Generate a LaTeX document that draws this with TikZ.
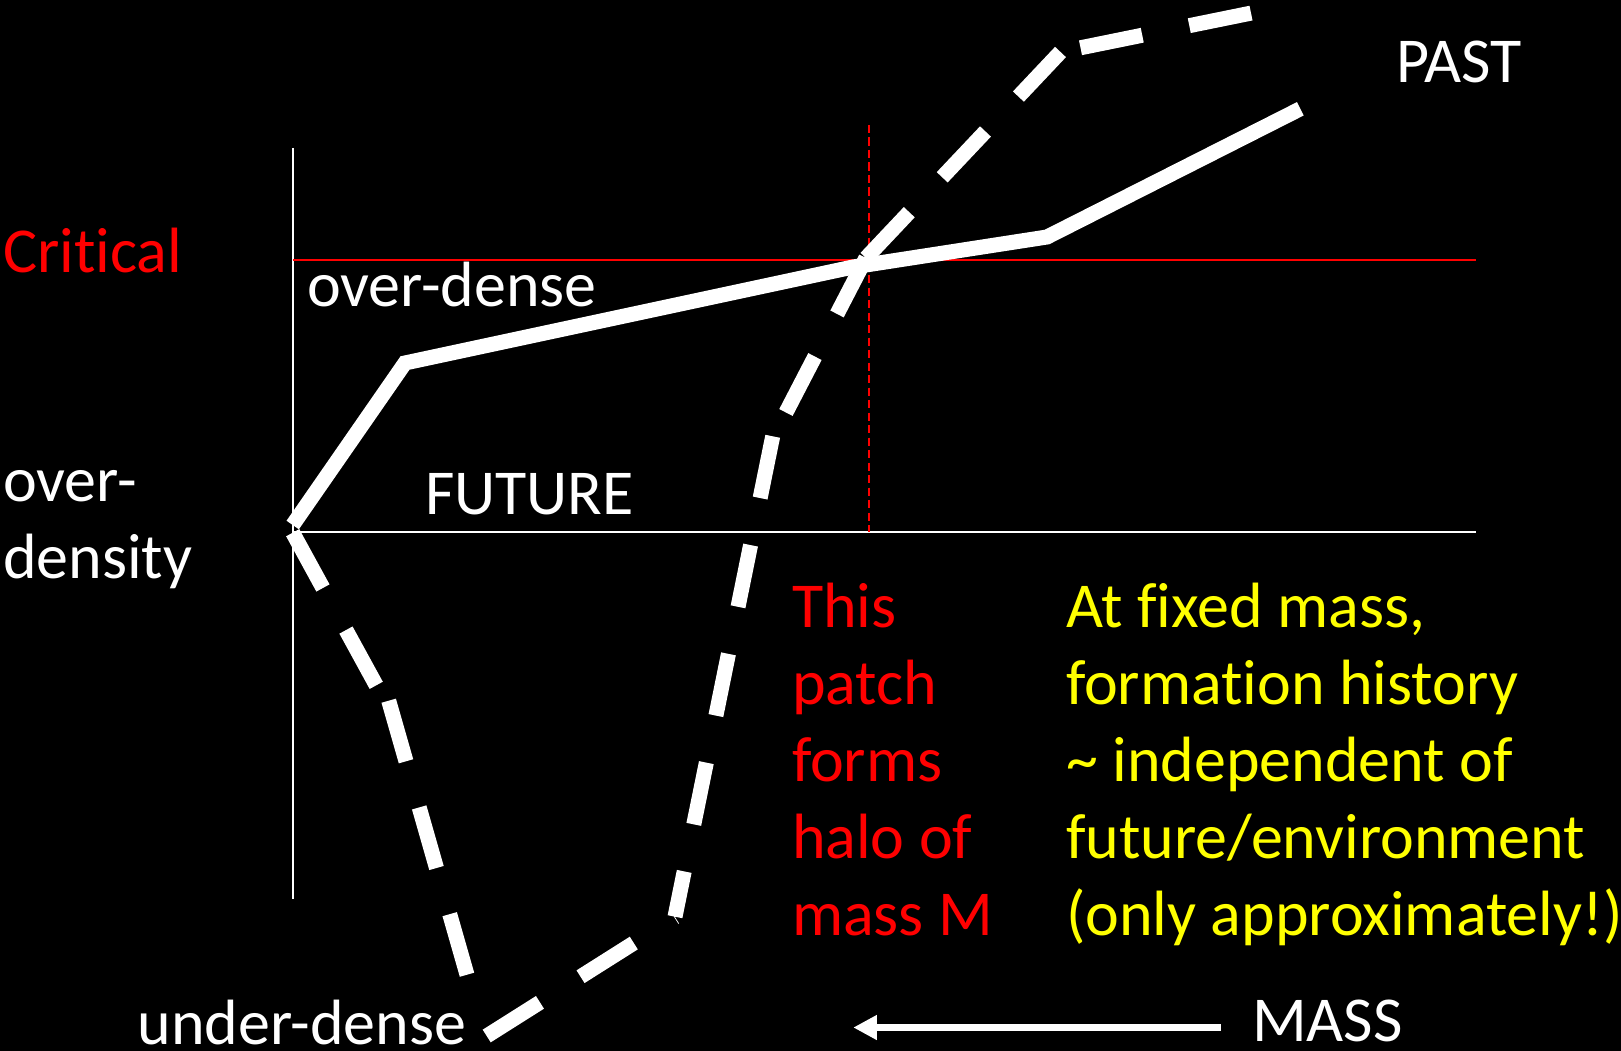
\documentclass[tikz,border=0pt]{standalone}
\usepackage{fontspec}
\setmainfont{Carlito}[Ligatures={NoCommon}]
\usetikzlibrary{arrows.meta}
\definecolor{pptred}{RGB}{255,0,0}
\definecolor{pptyellow}{RGB}{255,255,0}
\newcommand{\lines}[1]{\begin{tabular}[t]{@{}l@{}}#1\end{tabular}}
\begin{document}
\begin{tikzpicture}[x=1pt,y=-1pt,
  lbl/.style={anchor=base west, inner sep=0pt, outer sep=0pt, font=\fontsize{64}{77}\selectfont},
  axisline/.style={white, line width=2pt},
  critline/.style={pptred, line width=2pt},
  markline/.style={pptred, line width=1.5pt, dash pattern=on 8.3pt off 4.2pt},
  pastcurve/.style={white, line width=15pt, line cap=butt, line join=miter},
  futurecurve/.style={white, line width=15pt, line cap=butt, dash pattern=on 63pt off 48pt},
  massarrow/.style={white, line width=7.7pt, -{Triangle[length=23.5pt 0 0, width=23.5pt 0 0]}}]
\fill[black] (0,0) rectangle (1621,1051);
\useasboundingbox (0,0) rectangle (1621,1051);

% axes
\coordinate (vtop) at (293,148);
\coordinate (vbot) at (293,899);
\coordinate (origin) at (293,532);
\coordinate (hend) at (1476,532);
\coordinate (cstart) at (293,259.5);
\coordinate (cend) at (1476,259.5);
\coordinate (mtop) at (869,125);
\coordinate (mbot) at (869,532);
\draw[axisline] (vtop) -- (vbot);
\draw[axisline] (origin) -- (hend);
\draw[critline] (cstart) -- (cend);
\draw[markline] (mtop) -- (mbot);

% solid curve (past)
\coordinate (p0) at (292.7,525);
\coordinate (p1) at (405,363);
\coordinate (p2) at (853,267);
\coordinate (p3) at (1047,237);
\coordinate (p4) at (1300.3,108.8);
\draw[pastcurve] (p0) -- (p1) -- (p2) -- (p3) -- (p4);

% dashed curve (future), drawn as separate pieces
\coordinate (d1a) at (292.7,532.7);  \coordinate (d1b) at (376.7,686.2);
\coordinate (d2a) at (388.7,700.7);  \coordinate (d2b) at (467.8,977.5);
\coordinate (d3a) at (486.7,1036);   \coordinate (d3b) at (675,917);
\coordinate (d4a) at (772.7,436.3);  \coordinate (d4b) at (675,916.7);
\coordinate (cross) at (866,258);
\coordinate (d5b) at (785,414.3);
\coordinate (d6b) at (1060.5,52);
\coordinate (d7a) at (1080.5,47.8);  \coordinate (d7b) at (1252.5,12.8);
\draw[futurecurve] (d1a) -- (d1b) (d2a) -- (d2b) (d3a) -- (d3b) (d4a) -- (d4b)
  (cross) -- (d5b) (cross) -- (d6b) (d7a) -- (d7b);

% labels
\node[lbl, pptred] (critical) at (3,272) {Critical};
\node[lbl, white] (overdense) at (307,306) {over-dense};
\node[lbl, white] (overdensity) at (3,501) {\lines{over-\\density}};
\node[lbl, white] (future) at (425,514) {FUTURE};
\node[lbl, white] (past) at (1396,82.6) {PAST};
\node[lbl, white] (underdense) at (137.5,1044) {under-dense};
\node[lbl, white] (mass) at (1252,1041) {MASS};
\node[lbl, pptred] (patch) at (792,627) {\lines{This\\patch\\forms\\halo of\\mass M}};
\node[lbl, pptyellow] (note) at (1066,627) {\lines{At fixed mass,\\formation history\\\textasciitilde{} independent of\\future/environment\\(only approximately!)}};

% mass arrow
\coordinate (arrstart) at (1221,1027.5);
\coordinate (arrend) at (853.3,1027.5);
\draw[massarrow] (arrstart) -- (arrend);
\end{tikzpicture}
\end{document}
